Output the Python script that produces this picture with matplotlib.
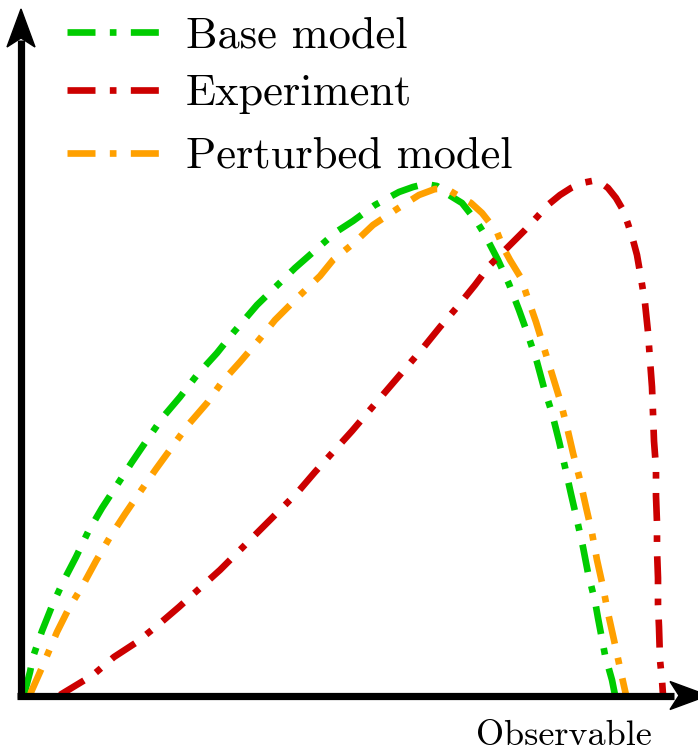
import numpy as np
import matplotlib
matplotlib.use("Agg")
import matplotlib.pyplot as plt
from matplotlib.patches import Polygon

# Sketch of observable distributions: base model, experiment, perturbed model
series_names = ["Base model", "Experiment", "Perturbed model"]
series_colors = ["#00cc00", "#cc0000", "#ffa000"]

base_x = [0.03, 0.09, 0.12, 0.21, 0.31, 0.42, 0.55, 0.67, 0.81, 0.96, 1.11, 1.26,
          1.42, 1.59, 1.76, 1.96, 2.12, 2.36, 2.74, 3.15, 3.32, 3.54, 3.78, 3.92,
          4.04, 4.16, 4.28, 4.41, 4.56, 4.64, 4.77, 4.88, 4.98, 5.07, 5.16, 5.23,
          5.31, 5.38, 5.44, 5.50, 5.56, 5.62, 5.67, 5.74, 5.77, 5.84, 5.91, 5.94]
base_y = [0.00, 0.23, 0.38, 0.64, 0.89, 1.13, 1.38, 1.63, 1.87, 2.10, 2.33, 2.55,
          2.78, 2.98, 3.20, 3.42, 3.62, 3.90, 4.27, 4.63, 4.74, 4.90, 5.03, 5.08,
          5.11, 5.09, 5.00, 4.92, 4.73, 4.60, 4.35, 4.11, 3.85, 3.60, 3.33, 3.07,
          2.82, 2.54, 2.28, 2.01, 1.75, 1.48, 1.22, 0.94, 0.77, 0.40, 0.15, 0.00]

exp_x = [0.39, 0.72, 0.93, 1.16, 1.37, 1.58, 1.79, 1.99, 2.19, 2.37, 2.57, 2.76,
         2.94, 3.12, 3.31, 3.48, 3.66, 3.84, 4.02, 4.19, 4.37, 4.54, 4.69, 4.91,
         5.04, 5.28, 5.39, 5.50, 5.61, 5.71, 5.79, 5.87, 5.95, 6.02, 6.07, 6.12,
         6.16, 6.20, 6.24, 6.27, 6.29, 6.31, 6.32, 6.33, 6.35, 6.35, 6.36, 6.36,
         6.37, 6.37, 6.38, 6.39, 6.41, 6.42]
exp_y = [0.00, 0.20, 0.38, 0.53, 0.70, 0.88, 1.07, 1.25, 1.45, 1.63, 1.83, 2.02,
         2.23, 2.43, 2.64, 2.84, 3.05, 3.26, 3.47, 3.68, 3.89, 4.10, 4.30, 4.52,
         4.65, 4.91, 5.00, 5.07, 5.12, 5.14, 5.13, 5.07, 4.97, 4.85, 4.71, 4.55,
         4.40, 4.17, 3.92, 3.63, 3.35, 3.08, 2.82, 2.54, 2.27, 1.99, 1.72, 1.45,
         1.17, 0.90, 0.68, 0.35, 0.15, 0.00]

pert_x = [0.09, 0.11, 0.19, 0.25, 0.36, 0.48, 0.62, 0.75, 0.89, 1.04, 1.19, 1.35,
          1.51, 1.67, 1.86, 2.01, 2.19, 2.37, 2.54, 2.74, 2.99, 3.12, 3.33, 3.52,
          3.76, 3.98, 4.14, 4.26, 4.36, 4.50, 4.61, 4.76, 4.82, 4.89, 5.00, 5.06,
          5.15, 5.23, 5.31, 5.39, 5.46, 5.52, 5.59, 5.65, 5.71, 5.76, 5.82, 5.87,
          5.93, 5.99, 6.05]
pert_y = [0.00, 0.05, 0.23, 0.37, 0.63, 0.87, 1.10, 1.34, 1.58, 1.81, 2.03, 2.26,
          2.48, 2.70, 2.92, 3.13, 3.33, 3.54, 3.75, 3.95, 4.19, 4.35, 4.52, 4.70,
          4.86, 5.00, 5.06, 5.06, 5.00, 4.92, 4.82, 4.63, 4.48, 4.35, 4.17, 3.99,
          3.73, 3.47, 3.21, 2.95, 2.68, 2.42, 2.15, 1.88, 1.62, 1.35, 1.08, 0.82,
          0.55, 0.27, 0.00]

curves = [(base_x, base_y), (exp_x, exp_y), (pert_x, pert_y)]

FONT = "cmr10"
W, H = 698, 751
dashdot = (0, (4.2, 2.15, 1.0, 2.15))
curve_lw = 4.8
axis_lw = 5.2

fig = plt.figure(figsize=(W / 100, H / 100), dpi=100)
ax = fig.add_axes([21 / W, 56 / H, 677 / W, 685 / H])
ax.set_xlim(0, 6.77)
ax.set_ylim(0, 6.85)
ax.axis("off")

for (xs, ys), col in zip(curves, series_colors):
    ax.plot(xs, ys, color=col, lw=curve_lw, ls=dashdot,
            dash_capstyle="butt", clip_on=False, zorder=2)

# overlay in pixel units for the arrows, legend and axis label
deco = fig.add_axes([0, 0, 1, 1])
deco.set_xlim(0, W)
deco.set_ylim(H, 0)
deco.axis("off")
deco.patch.set_alpha(0)

deco.plot([21, 21], [698, 40], color="black", lw=axis_lw, solid_capstyle="butt", zorder=5)
deco.plot([17, 674], [695.5, 695.5], color="black", lw=axis_lw, solid_capstyle="butt", zorder=5)
deco.add_patch(Polygon([[21, 9], [7, 47], [21, 38], [35, 47]], closed=True,
                       color="black", zorder=6))
deco.add_patch(Polygon([[708, 695.5], [670, 681.5], [679, 695.5], [670, 709.5]], closed=True,
                       color="black", zorder=6, clip_on=False))

leg_line_y = [32, 90, 153]
leg_text_y = [47, 105, 167]
for name, col, ly, ty in zip(series_names, series_colors, leg_line_y, leg_text_y):
    deco.plot([67, 159], [ly, ly], color=col, lw=curve_lw, ls=dashdot, dash_capstyle="butt")
    deco.text(186, ty, name, fontsize=32, family=FONT, va="baseline", ha="left")

deco.text(564, 745, "Observable", fontsize=26, family=FONT, va="baseline", ha="center")

fig.savefig("out.png", dpi=100)
